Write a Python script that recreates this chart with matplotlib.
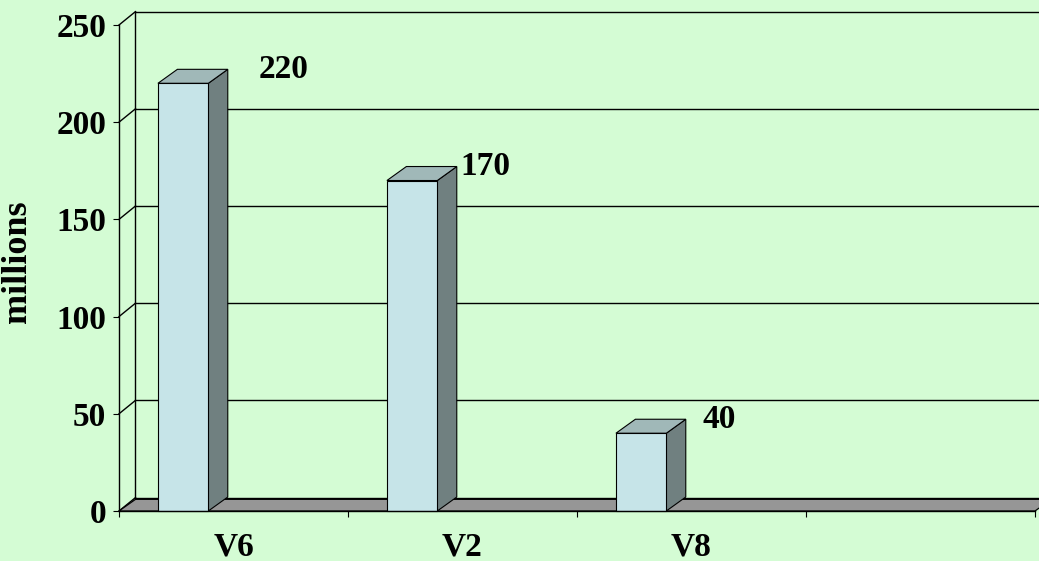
import matplotlib.pyplot as plt
from matplotlib.patches import Polygon, Rectangle
from matplotlib.ticker import FixedLocator, NullFormatter, FixedFormatter

plt.rcParams["font.family"] = ["Liberation Serif", "DejaVu Serif"]
plt.rcParams["font.weight"] = "bold"

# data
categories = ["V6", "V2", "V8", ""]
values = [220, 170, 40]
yticks = [0, 50, 100, 150, 200, 250]

# label placement (left edge of each value label, relative to the slot)
label_dx = [0.61, 0.49, 0.55]

bg = "#d4fcd4"
front_col = "#c6e4e8"
top_col = "#a0b8b8"
side_col = "#708080"
floor_col = "#969696"

# depth of the 3d box, in data units
wdx, wdy = 0.072, 6.9     # walls
bdx, bdy = 0.085, 7.2     # bars
bar_left, bar_w = 0.17, 0.22

fig = plt.figure(figsize=(10.39, 5.61), dpi=100, facecolor=bg)
ax = fig.add_axes([119 / 1039, 50 / 561, 916 / 1039, 486 / 561])
ax.set_xlim(0, len(categories))
ax.set_ylim(0, 250)
ax.patch.set_visible(False)

ncat = len(categories)

# back wall + side wall gridlines
for y in yticks:
    ax.plot([wdx, ncat + wdx], [y + wdy, y + wdy], color="black", lw=1.0,
            clip_on=False, zorder=1)
    ax.plot([0, wdx], [y, y + wdy], color="black", lw=1.0,
            clip_on=False, zorder=1)
ax.plot([wdx, wdx], [wdy, 250 + wdy], color="black", lw=1.0,
        clip_on=False, zorder=1)

# floor
floor = Polygon([(0, 0), (ncat, 0), (ncat + wdx, wdy * 0.87), (wdx, wdy * 0.87)],
                closed=True, facecolor=floor_col, edgecolor="black", lw=0.9,
                clip_on=False, zorder=2)
ax.add_patch(floor)

# bars
for i, v in enumerate(values):
    x0 = i + bar_left
    x1 = x0 + bar_w
    side = Polygon([(x1, 0), (x1 + bdx, bdy), (x1 + bdx, v + bdy), (x1, v)],
                   closed=True, facecolor=side_col, edgecolor="black", lw=0.8,
                   zorder=3)
    top = Polygon([(x0, v), (x1, v), (x1 + bdx, v + bdy), (x0 + bdx, v + bdy)],
                  closed=True, facecolor=top_col, edgecolor="black", lw=0.8,
                  zorder=3)
    face = Rectangle((x0, 0), bar_w, v, facecolor=front_col,
                     edgecolor="black", lw=0.8, zorder=4)
    for p in (side, top, face):
        p.set_clip_on(False)
        ax.add_patch(p)
    ax.text(i + label_dx[i], v + 7, str(v), ha="left", va="center",
            fontsize=24, fontweight="bold", zorder=5)

# axes
for s in ("top", "right", "bottom"):
    ax.spines[s].set_visible(False)
ax.spines["left"].set_linewidth(1.0)
ax.spines["left"].set_zorder(5)
ax.plot([0, ncat], [0, 0], color="black", lw=1.0, clip_on=False, zorder=5)

ax.set_yticks(yticks)
ax.tick_params(axis="y", direction="out", length=4.3, width=0.8, pad=5,
               labelsize=24)
ax.xaxis.set_major_locator(FixedLocator(range(ncat + 1)))
ax.xaxis.set_major_formatter(NullFormatter())
ax.xaxis.set_minor_locator(FixedLocator([i + 0.5 for i in range(ncat)]))
ax.xaxis.set_minor_formatter(FixedFormatter(categories))
ax.tick_params(axis="x", which="major", direction="out", length=4.3, width=0.8)
ax.tick_params(axis="x", which="minor", length=0, pad=15, labelsize=24)

ax.set_ylabel("millions", fontsize=26, fontweight="bold")
ax.yaxis.set_label_coords(-0.093, 0.512)

fig.savefig("out.png", dpi=100, facecolor=bg)
